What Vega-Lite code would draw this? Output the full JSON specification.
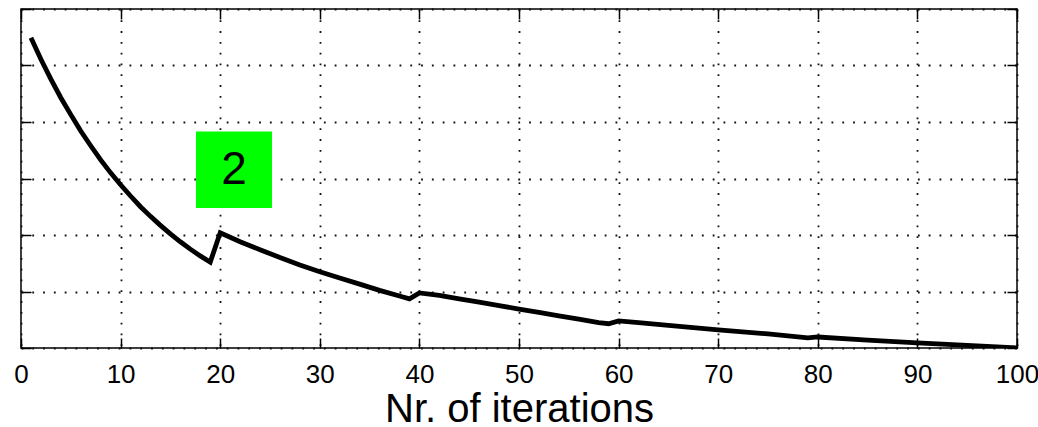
{
  "$schema": "https://vega.github.io/schema/vega-lite/v6.json",
  "width": 996,
  "height": 339,
  "autosize": {"type": "none"},
  "padding": {"left": 21, "top": 9, "right": 21, "bottom": 79},
  "background": "white",
  "config": {
    "view": {"stroke": "black", "strokeWidth": 1.5},
    "font": "Liberation Sans"
  },
  "datasets": {
    "curve": [
      {"x": 1, "y": 5.49}, {"x": 2, "y": 5.11}, {"x": 3, "y": 4.76}, {"x": 4, "y": 4.43},
      {"x": 5, "y": 4.13}, {"x": 6, "y": 3.84}, {"x": 7, "y": 3.58}, {"x": 8, "y": 3.33},
      {"x": 9, "y": 3.10}, {"x": 10, "y": 2.89}, {"x": 11, "y": 2.69}, {"x": 12, "y": 2.50},
      {"x": 13, "y": 2.33}, {"x": 14, "y": 2.17}, {"x": 15, "y": 2.02}, {"x": 16, "y": 1.88},
      {"x": 17, "y": 1.75}, {"x": 18, "y": 1.63}, {"x": 19, "y": 1.52},
      {"x": 20, "y": 2.04}, {"x": 22, "y": 1.88}, {"x": 24, "y": 1.74}, {"x": 26, "y": 1.60},
      {"x": 28, "y": 1.47}, {"x": 30, "y": 1.35}, {"x": 32, "y": 1.24}, {"x": 34, "y": 1.13},
      {"x": 36, "y": 1.02}, {"x": 38, "y": 0.92}, {"x": 39, "y": 0.87},
      {"x": 40, "y": 0.975}, {"x": 42, "y": 0.93}, {"x": 44, "y": 0.87}, {"x": 46, "y": 0.81},
      {"x": 48, "y": 0.75}, {"x": 50, "y": 0.69}, {"x": 52, "y": 0.63}, {"x": 54, "y": 0.57},
      {"x": 56, "y": 0.51}, {"x": 58, "y": 0.45}, {"x": 59, "y": 0.43},
      {"x": 60, "y": 0.48}, {"x": 62, "y": 0.45}, {"x": 65, "y": 0.40}, {"x": 70, "y": 0.32},
      {"x": 75, "y": 0.25}, {"x": 79, "y": 0.18},
      {"x": 80, "y": 0.195}, {"x": 85, "y": 0.14}, {"x": 90, "y": 0.09}, {"x": 95, "y": 0.045},
      {"x": 100, "y": 0.0}
    ],
    "note": [
      {"x0": 17.57, "x1": 25.2, "y0": 2.48, "y1": 3.83, "xc": 21.4, "yc": 3.15, "label": "2"}
    ]
  },
  "layer": [
    {
      "data": {"name": "curve"},
      "mark": {"type": "line", "color": "black", "strokeWidth": 4.8, "clip": true},
      "encoding": {
        "x": {
          "field": "x", "type": "quantitative",
          "scale": {"domain": [0, 100], "nice": false, "zero": false},
          "axis": {
            "orient": "bottom", "values": [0, 10, 20, 30, 40, 50, 60, 70, 80, 90, 100],
            "title": "Nr. of iterations", "titleFont": "Liberation Sans", "titleFontSize": 40,
            "titleFontWeight": "normal", "titleColor": "black", "titlePadding": 2,
            "labelFont": "Liberation Sans", "labelFontSize": 26, "labelColor": "black",
            "labelPadding": 23, "labelFlush": false, "labelOverlap": false,
            "tickSize": -10, "tickColor": "black", "tickWidth": 1.5,
            "domain": false,
            "grid": true, "gridColor": "#111", "gridWidth": 1.8, "gridDash": [1.8, 9]
          }
        },
        "y": {
          "field": "y", "type": "quantitative",
          "scale": {"domain": [0, 6], "nice": false, "zero": true},
          "axis": {
            "orient": "left", "values": [0, 1, 2, 3, 4, 5, 6], "title": null,
            "labels": false, "tickSize": -10, "tickColor": "black", "tickWidth": 1.5,
            "domain": false,
            "grid": true, "gridColor": "#111", "gridWidth": 1.8, "gridDash": [1.8, 9]
          }
        }
      }
    },
    {
      "data": {"name": "curve"},
      "mark": {"type": "point", "opacity": 0},
      "encoding": {
        "x": {
          "field": "x", "type": "quantitative",
          "axis": {"orient": "top", "values": [0, 10, 20, 30, 40, 50, 60, 70, 80, 90, 100],
            "title": null, "labels": false, "tickSize": -10, "tickColor": "black",
            "tickWidth": 1.5, "domain": false, "grid": false}
        },
        "y": {
          "field": "y", "type": "quantitative",
          "axis": {"orient": "right", "values": [0, 1, 2, 3, 4, 5, 6], "title": null,
            "labels": false, "tickSize": -10, "tickColor": "black", "tickWidth": 1.5,
            "domain": false, "grid": false}
        }
      }
    },
    {
      "data": {"name": "note"},
      "mark": {"type": "rect", "color": "#00ff00", "opacity": 1},
      "encoding": {
        "x": {"field": "x0", "type": "quantitative", "axis": null},
        "x2": {"field": "x1"},
        "y": {"field": "y0", "type": "quantitative", "axis": null},
        "y2": {"field": "y1"}
      }
    },
    {
      "data": {"name": "note"},
      "mark": {"type": "text", "fontSize": 46, "font": "Liberation Sans", "color": "black", "baseline": "middle", "align": "center"},
      "encoding": {
        "x": {"field": "xc", "type": "quantitative", "axis": null},
        "y": {"field": "yc", "type": "quantitative", "axis": null},
        "text": {"field": "label"}
      }
    }
  ],
  "resolve": {"axis": {"x": "independent", "y": "independent"}}
}
